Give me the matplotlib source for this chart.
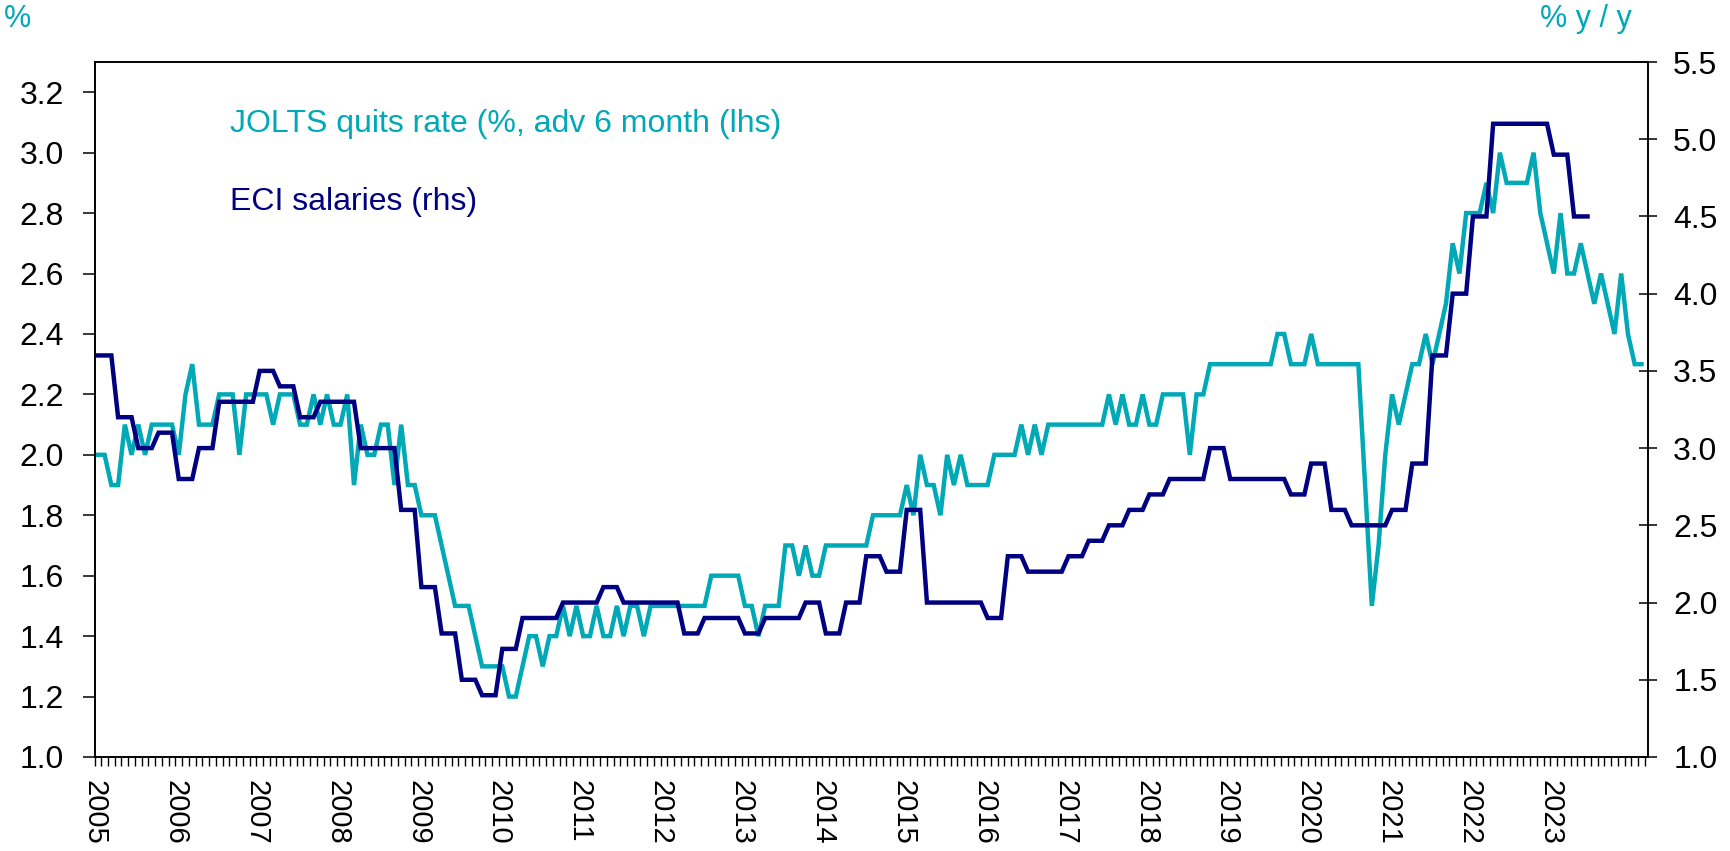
import numpy as np
import matplotlib
matplotlib.use('Agg')
import matplotlib.pyplot as plt
from matplotlib.ticker import FixedLocator, MultipleLocator, FormatStrFormatter

plt.rcParams['font.family'] = ['Liberation Sans', 'DejaVu Sans']

TEAL = '#00A9B5'
NAVY = '#000080'

years = list(range(2005, 2024))

# JOLTS quits rate, %, advanced 6 months - monthly from Jan 2005
quits = [
    2.0, 2.0, 1.9, 1.9, 2.1, 2.0, 2.1, 2.0, 2.1, 2.1, 2.1, 2.1,  # 2005
    2.0, 2.2, 2.3, 2.1, 2.1, 2.1, 2.2, 2.2, 2.2, 2.0, 2.2, 2.2,  # 2006
    2.2, 2.2, 2.1, 2.2, 2.2, 2.2, 2.1, 2.1, 2.2, 2.1, 2.2, 2.1,  # 2007
    2.1, 2.2, 1.9, 2.1, 2.0, 2.0, 2.1, 2.1, 1.9, 2.1, 1.9, 1.9,  # 2008
    1.8, 1.8, 1.8, 1.7, 1.6, 1.5, 1.5, 1.5, 1.4, 1.3, 1.3, 1.3,  # 2009
    1.3, 1.2, 1.2, 1.3, 1.4, 1.4, 1.3, 1.4, 1.4, 1.5, 1.4, 1.5,  # 2010
    1.4, 1.4, 1.5, 1.4, 1.4, 1.5, 1.4, 1.5, 1.5, 1.4, 1.5, 1.5,  # 2011
    1.5, 1.5, 1.5, 1.5, 1.5, 1.5, 1.5, 1.6, 1.6, 1.6, 1.6, 1.6,  # 2012
    1.5, 1.5, 1.4, 1.5, 1.5, 1.5, 1.7, 1.7, 1.6, 1.7, 1.6, 1.6,  # 2013
    1.7, 1.7, 1.7, 1.7, 1.7, 1.7, 1.7, 1.8, 1.8, 1.8, 1.8, 1.8,  # 2014
    1.9, 1.8, 2.0, 1.9, 1.9, 1.8, 2.0, 1.9, 2.0, 1.9, 1.9, 1.9,  # 2015
    1.9, 2.0, 2.0, 2.0, 2.0, 2.1, 2.0, 2.1, 2.0, 2.1, 2.1, 2.1,  # 2016
    2.1, 2.1, 2.1, 2.1, 2.1, 2.1, 2.2, 2.1, 2.2, 2.1, 2.1, 2.2,  # 2017
    2.1, 2.1, 2.2, 2.2, 2.2, 2.2, 2.0, 2.2, 2.2, 2.3, 2.3, 2.3,  # 2018
    2.3, 2.3, 2.3, 2.3, 2.3, 2.3, 2.3, 2.4, 2.4, 2.3, 2.3, 2.3,  # 2019
    2.4, 2.3, 2.3, 2.3, 2.3, 2.3, 2.3, 2.3, 1.9, 1.5, 1.7, 2.0,  # 2020
    2.2, 2.1, 2.2, 2.3, 2.3, 2.4, 2.3, 2.4, 2.5, 2.7, 2.6, 2.8,  # 2021
    2.8, 2.8, 2.9, 2.8, 3.0, 2.9, 2.9, 2.9, 2.9, 3.0, 2.8, 2.7,  # 2022
    2.6, 2.8, 2.6, 2.6, 2.7, 2.6, 2.5, 2.6, 2.5, 2.4, 2.6, 2.4,  # 2023
    2.3, 2.3,                                                    # 2024
]

# ECI salaries, % y/y - quarterly from 2005Q1
eci_q = [
    3.6, 3.2, 3.0, 3.1,  # 2005
    2.8, 3.0, 3.3, 3.3,  # 2006
    3.5, 3.4, 3.2, 3.3,  # 2007
    3.3, 3.0, 3.0, 2.6,  # 2008
    2.1, 1.8, 1.5, 1.4,  # 2009
    1.7, 1.9, 1.9, 2.0,  # 2010
    2.0, 2.1, 2.0, 2.0,  # 2011
    2.0, 1.8, 1.9, 1.9,  # 2012
    1.8, 1.9, 1.9, 2.0,  # 2013
    1.8, 2.0, 2.3, 2.2,  # 2014
    2.6, 2.0, 2.0, 2.0,  # 2015
    1.9, 2.3, 2.2, 2.2,  # 2016
    2.3, 2.4, 2.5, 2.6,  # 2017
    2.7, 2.8, 2.8, 3.0,  # 2018
    2.8, 2.8, 2.8, 2.7,  # 2019
    2.9, 2.6, 2.5, 2.5,  # 2020
    2.6, 2.9, 3.6, 4.0,  # 2021
    4.5, 5.1, 5.1, 5.1,  # 2022
    4.9, 4.5,            # 2023
]

# quarterly value shown for each month of the quarter
eci = np.repeat(eci_q, 3)

# x in months since Jan 2005, point in the middle of the month
x_quits = np.arange(len(quits)) + 0.5
x_eci = np.arange(len(eci)) + 0.5

fig = plt.figure(figsize=(17.3, 8.51), dpi=100)
ax = fig.add_axes([94.5 / 1730, 1 - 757 / 851, 1553 / 1730, 695 / 851])
ax2 = ax.twinx()

ax.plot(x_quits, quits, color=TEAL, lw=3.2, solid_joinstyle='miter', zorder=3)
ax2.plot(x_eci, eci, color=NAVY, lw=3.2, solid_joinstyle='miter', zorder=3)

ax.set_xlim(0, 230.4)
ax.set_ylim(1.0, 3.3)
ax2.set_ylim(1.0, 5.5)

ax.yaxis.set_major_locator(FixedLocator(np.arange(1.0, 3.21, 0.2)))
ax.yaxis.set_major_formatter(FormatStrFormatter('%.1f'))
ax2.yaxis.set_major_locator(FixedLocator(np.arange(1.0, 5.51, 0.5)))
ax2.yaxis.set_major_formatter(FormatStrFormatter('%.1f'))

ax.xaxis.set_major_locator(FixedLocator([12 * i for i in range(len(years))]))
ax.xaxis.set_minor_locator(MultipleLocator(1))
ax.set_xticklabels([str(y) for y in years], rotation=270, fontsize=21)

ax.tick_params(axis='y', direction='out', length=9, width=1.1, labelsize=23, pad=13)
ax2.tick_params(axis='y', direction='inout', length=13, width=1.1, labelsize=23, pad=12)
ax.tick_params(axis='x', which='both', direction='out', length=6.5, width=1.0, pad=10)

for a in (ax, ax2):
    for s in a.spines.values():
        s.set_linewidth(1.2)
        s.set_color('black')

ax.text(0.0874, 0.911, 'JOLTS quits rate (%, adv 6 month (lhs)', transform=ax.transAxes,
        color=TEAL, fontsize=23, va='center', ha='left')
ax.text(0.0874, 0.799, 'ECI salaries (rhs)', transform=ax.transAxes,
        color=NAVY, fontsize=23, va='center', ha='left')

fig.text(4 / 1730, 1 - 19 / 851, '%', color=TEAL, fontsize=22, va='center', ha='left')
fig.text(1540 / 1730, 1 - 19 / 851, '% y / y', color=TEAL, fontsize=22, va='center', ha='left')

fig.savefig('out.png', dpi=100)
